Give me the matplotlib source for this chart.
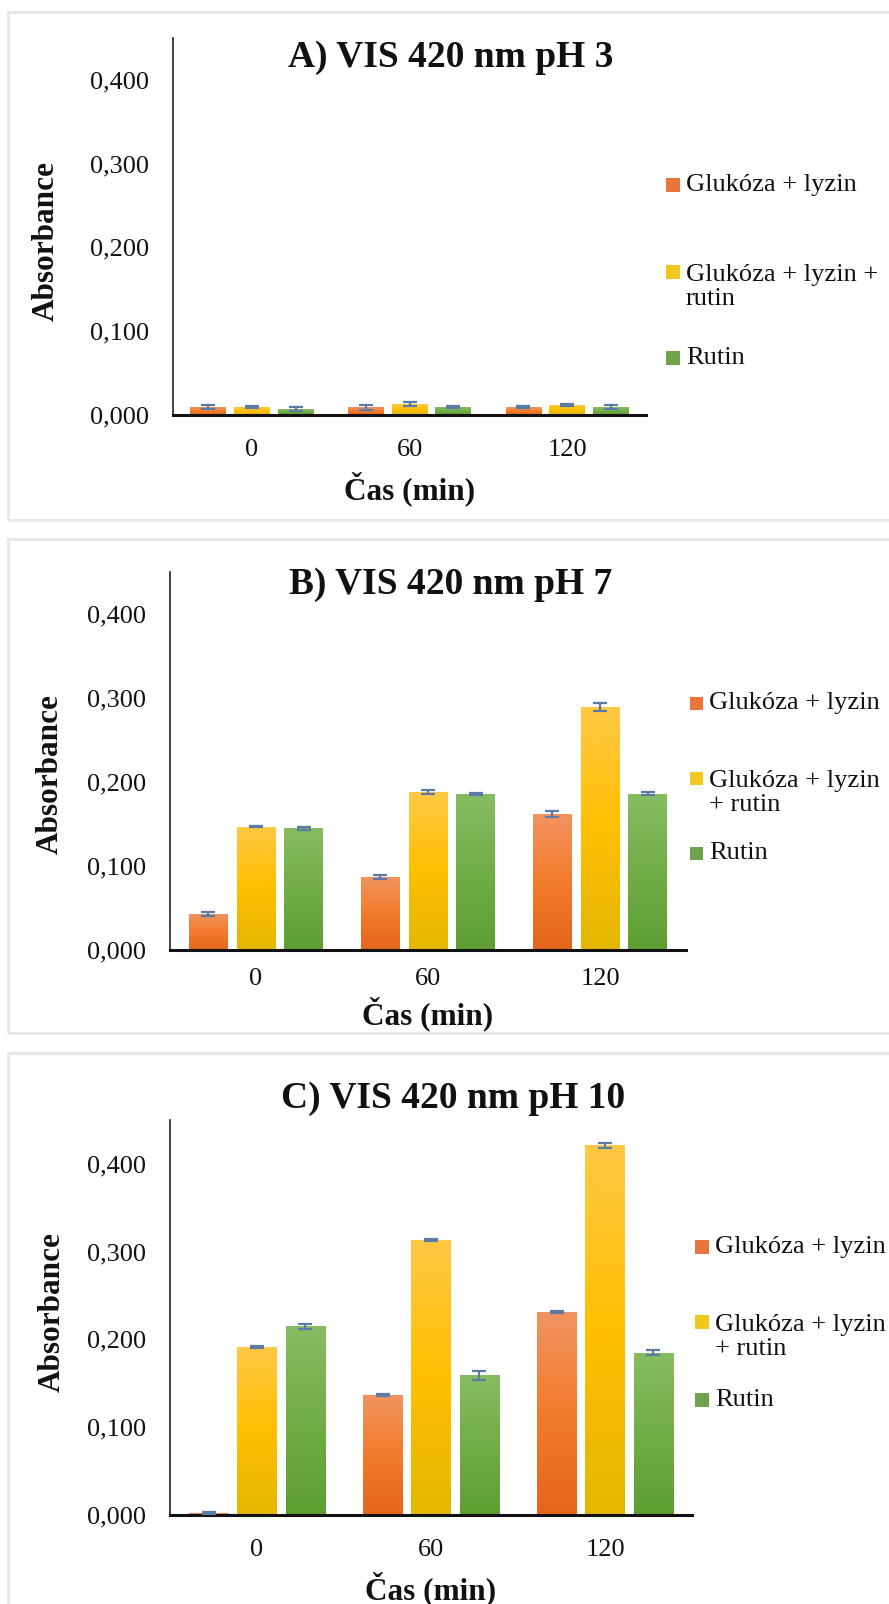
import numpy as np
import matplotlib
matplotlib.use("Agg")
import matplotlib.pyplot as plt
from matplotlib.patches import Rectangle
from matplotlib.colors import LinearSegmentedColormap

# ---------------- data ----------------
times = ["0", "60", "120"]
series = ["Glukóza + lyzin", "Glukóza + lyzin + rutin", "Rutin"]

ph3_vals = [[0.0095, 0.0095, 0.0095], [0.0095, 0.013, 0.012], [0.007, 0.0095, 0.0095]]
ph3_err = [[0.002, 0.003, 0.001], [0.001, 0.002, 0.001], [0.002, 0.001, 0.002]]

ph7_vals = [[0.043, 0.087, 0.162], [0.147, 0.188, 0.289], [0.145, 0.186, 0.186]]
ph7_err = [[0.002, 0.002, 0.004], [0.001, 0.002, 0.005], [0.002, 0.001, 0.002]]

ph10_vals = [[0.002, 0.137, 0.231], [0.191, 0.313, 0.421], [0.215, 0.159, 0.185]]
ph10_err = [[0.001, 0.001, 0.001], [0.001, 0.001, 0.003], [0.003, 0.005, 0.003]]

titles = ["A) VIS 420 nm pH 3", "B) VIS 420 nm pH 7", "C) VIS 420 nm pH 10"]
legend_mid = ["Glukóza + lyzin +\nrutin", "Glukóza + lyzin\n+ rutin", "Glukóza + lyzin\n+ rutin"]
yticks = [0.0, 0.1, 0.2, 0.3, 0.4]
ytick_labels = ["0,000", "0,100", "0,200", "0,300", "0,400"]

# gradient stops (top, middle, bottom)
grad_colors = [
    ["#F19461", "#F37B2C", "#E4661A"],
    ["#FFC844", "#FFC000", "#E3B700"],
    ["#88BC62", "#71AE47", "#5D9E31"],
]
legend_colors = ["#E9753A", "#F2C81E", "#6FA24A"]

plt.rcParams["font.family"] = ["Liberation Serif", "DejaVu Serif"]

W, H = 889, 1604
fig = plt.figure(figsize=(W / 100, H / 100), dpi=100)
fig.patch.set_facecolor("white")

def fx(px):
    return px / W

def fy(py):
    return 1 - py / H

# panel frames
frames = [(8, 12, 900, 520), (8, 539, 900, 1033), (8, 1053, 900, 1620)]
for (x0, y0, x1, y1) in frames:
    fig.patches.append(Rectangle((fx(x0), fy(y1)), fx(x1 - x0), (y1 - y0) / H,
                                 transform=fig.transFigure, facecolor="none",
                                 edgecolor="#E6E6E6", linewidth=2.0, zorder=0))

panels = [
    dict(vals=ph3_vals, err=ph3_err, left=173, right=646, base=415, top=38,
         title_xy=(451, 67), ylab=(46, 241), xlab_y=489, xpad=17,
         leg_x=666, leg_ys=[185, 287, 358], leg_sz=14),
    dict(vals=ph7_vals, err=ph7_err, left=170, right=686, base=950, top=572,
         title_xy=(451, 594), ylab=(50, 774), xlab_y=1014, xpad=13,
         leg_x=690, leg_ys=[703, 793, 853], leg_sz=13),
    dict(vals=ph10_vals, err=ph10_err, left=170, right=692, base=1515, top=1120,
         title_xy=(453, 1108), ylab=(52, 1312), xlab_y=1589, xpad=17,
         leg_x=695, leg_ys=[1247, 1337, 1400], leg_sz=14),
]

width = 0.225
step = 0.277
x = np.arange(len(times))

for pi, p in enumerate(panels):
    ax = fig.add_axes([fx(p["left"]), fy(p["base"]), fx(p["right"] - p["left"]),
                       (p["base"] - p["top"]) / H])
    ax.set_facecolor("none")
    ax.set_xlim(-0.5, 2.5)
    ax.set_ylim(0, 0.45)
    for si in range(3):
        xs = x + (si - 1) * step
        bars = ax.bar(xs, p["vals"][si], width=width, color=grad_colors[si][1],
                      edgecolor="none", zorder=2)
        cmap = LinearSegmentedColormap.from_list("g%d" % si, grad_colors[si][::-1])
        grad = np.linspace(0, 1, 256).reshape(-1, 1)
        for b in bars:
            bx, by = b.get_x(), b.get_y()
            bw, bh = b.get_width(), b.get_height()
            im = ax.imshow(grad, cmap=cmap, aspect="auto", origin="lower",
                           extent=[bx, bx + bw, by, by + bh], zorder=2.5,
                           interpolation="bilinear")
            im.set_clip_path(b)
        ax.errorbar(xs, p["vals"][si], yerr=p["err"][si], fmt="none",
                    ecolor="#5A7BA3", elinewidth=1.6, capsize=5, capthick=1.6, zorder=4)
    ax.set_xlim(-0.5, 2.5)
    ax.set_ylim(0, 0.45)
    for s in ["top", "right"]:
        ax.spines[s].set_visible(False)
    ax.spines["left"].set_color("#222222")
    ax.spines["left"].set_linewidth(1.2)
    ax.spines["bottom"].set_color("#111111")
    ax.spines["bottom"].set_linewidth(2.2)
    ax.set_yticks(yticks)
    ax.set_yticklabels(ytick_labels)
    ax.set_xticks(x)
    ax.set_xticklabels(times)
    ax.tick_params(axis="both", length=0, labelsize=19, colors="#111111")
    ax.tick_params(axis="y", pad=17)
    ax.tick_params(axis="x", pad=p["xpad"])
    hpx = p["base"] - p["top"]
    wpx = p["right"] - p["left"]
    ax.set_xlabel("Čas (min)", fontsize=22.5, fontweight="bold", color="#111111")
    ax.xaxis.label.set_va("center")
    ax.xaxis.set_label_coords(0.5, -(p["xlab_y"] - p["base"]) / hpx)
    ax.set_ylabel("Absorbance", fontsize=22.5, fontweight="bold", color="#111111")
    ax.yaxis.label.set_va("center")
    ax.yaxis.set_label_coords(-(p["left"] - p["ylab"][0]) / wpx,
                              (p["base"] - p["ylab"][1]) / hpx)
    fig.text(fx(p["title_xy"][0]), fy(p["title_xy"][1]), titles[pi], fontsize=27,
             fontweight="bold", ha="center", va="baseline", color="#111111")
    # legend
    labels = [series[0], legend_mid[pi], series[2]]
    sz = p["leg_sz"]
    for li in range(3):
        cy = p["leg_ys"][li]
        lines = labels[li].count("\n") + 1
        first_cy = cy - (lines - 1) * 15
        fig.patches.append(Rectangle((fx(p["leg_x"]), fy(first_cy + sz / 2)), fx(sz), sz / H,
                                     transform=fig.transFigure, facecolor=legend_colors[li],
                                     edgecolor="none"))
        fig.text(fx(p["leg_x"] + sz + 6), fy(cy), labels[li], fontsize=19,
                 ha="left", va="center", linespacing=1.1, color="#111111")

fig.savefig("out.png", dpi=100, facecolor="white")
